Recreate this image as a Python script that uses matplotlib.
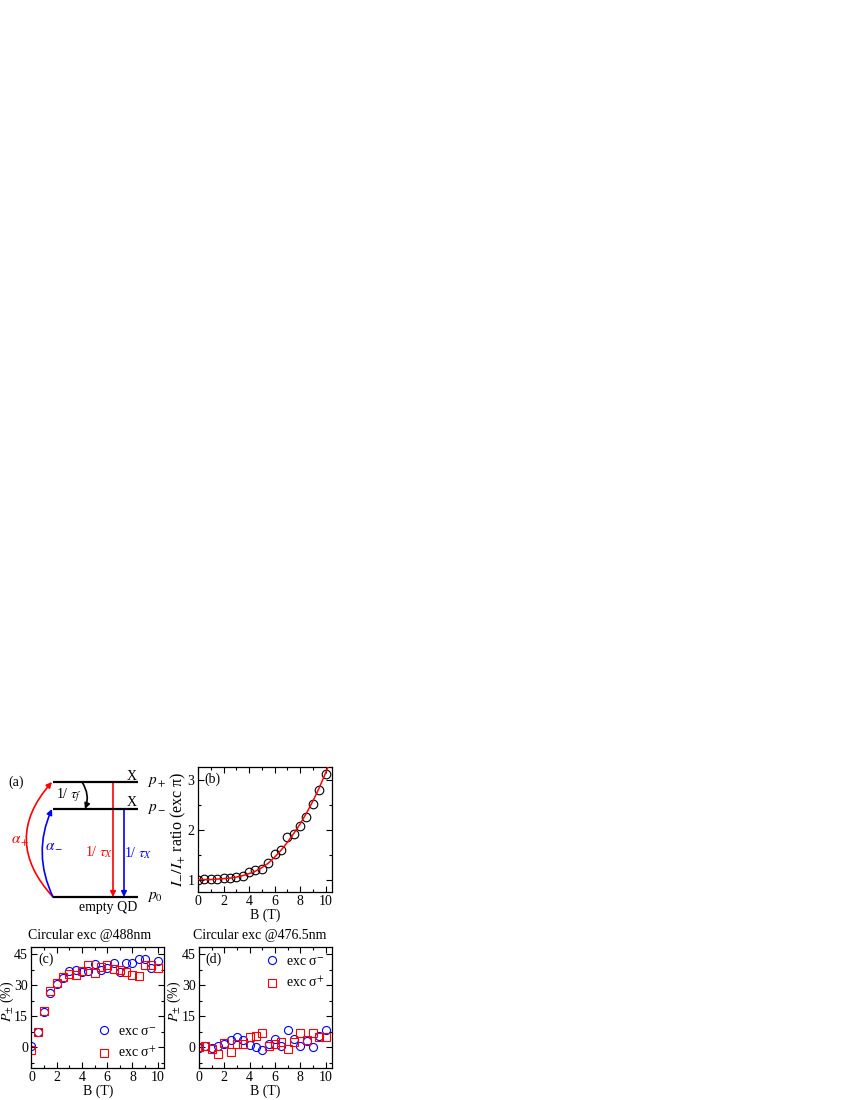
import matplotlib

matplotlib.use("Agg")
import matplotlib.pyplot as plt
from matplotlib.patches import FancyArrowPatch
from matplotlib.ticker import MultipleLocator

plt.rcParams["font.family"] = ["Liberation Serif", "DejaVu Serif"]
plt.rcParams["mathtext.fontset"] = "stix"
plt.rcParams["font.size"] = 10

# panel (b): intensity ratio vs field
b_field = [0, 0.5, 1, 1.5, 2, 2.5, 3, 3.5, 4, 4.5, 5, 5.5, 6, 6.5, 7, 7.5, 8, 8.5, 9, 9.5, 10]
ratio = [1.00, 1.01, 1.01, 1.02, 1.03, 1.04, 1.06, 1.08, 1.15, 1.20, 1.22, 1.33,
         1.52, 1.59, 1.86, 1.92, 2.08, 2.26, 2.52, 2.80, 3.13]
fit_field = [0, 0.5, 1, 1.5, 2, 2.5, 3, 3.5, 4, 4.5, 5, 5.5, 6, 6.5, 7, 7.5, 8,
             8.5, 9, 9.5, 10, 10.5]
fit_ratio = [1.00, 1.00, 1.00, 1.01, 1.02, 1.03, 1.05, 1.08, 1.12, 1.17, 1.24, 1.33,
             1.45, 1.59, 1.75, 1.93, 2.12, 2.34, 2.58, 2.85, 3.15, 3.48]

# panel (c): 488 nm excitation
pol_c_minus = [0.8, 7.5, 17.3, 26.4, 30.6, 33.6, 36.8, 37.3, 36.3, 36.8, 40.2, 37.6,
               38.3, 41.0, 36.3, 40.8, 40.8, 42.6, 42.9, 38.4, 41.8]
pol_c_plus = [-1.3, 7.2, 17.7, 27.3, 30.9, 33.8, 35.4, 35.0, 37.0, 40.0, 35.9, 38.6,
              39.8, 38.1, 37.6, 36.2, 35.2, 34.6, 40.0, 40.0, 38.4]

# panel (d): 476.5 nm excitation
pol_d_minus = [-0.5, 0.8, -0.2, 0.6, 1.5, 3.6, 4.9, 3.6, 1.1, 0.3, -1.3, 1.5,
               4.2, 0.6, 8.6, 3.9, 0.6, 3.2, 0.3, 5.5, 8.4]
pol_d_plus = [0.3, 0.6, -0.6, -3.2, 2.3, -2.3, 1.5, 1.8, 4.9, 5.7, 7.1, 0.6,
              1.5, 2.8, -1.0, 2.4, 6.7, 3.6, 7.0, 5.2, 4.9]

legend_labels = [r"exc σ$^{-}$", r"exc σ$^{+}$"]

W, H = 850, 1100
fig = plt.figure(figsize=(W / 100, H / 100), dpi=100)


def box(left, top, right, bottom):
    return [left / W, 1 - bottom / H, (right - left) / W, (bottom - top) / H]


def style(ax):
    ax.tick_params(which="both", direction="in", top=True, right=True,
                   labelsize=10, width=0.8, pad=2.5)
    ax.tick_params(which="major", length=4.5)
    ax.tick_params(which="minor", length=2.5)
    ax.xaxis.set_major_locator(MultipleLocator(2))
    ax.xaxis.set_minor_locator(MultipleLocator(1))
    ax.set_xlim(0, 10.5)
    ax.set_xlabel("B (T)", labelpad=0)
    for s in ax.spines.values():
        s.set_linewidth(0.9)


# ---- (a) level scheme, drawn in pixel units ----
ax_a = fig.add_axes(box(0, 730, 180, 920))
ax_a.set_xlim(0, 180)
ax_a.set_ylim(920, 730)
ax_a.axis("off")

levels = {"p_+": 782, "p_-": 809, "p_0": 897}
x0, x1 = 53, 138
for y in levels.values():
    ax_a.plot([x0, x1], [y, y], color="black", lw=1.6, solid_capstyle="butt")
ax_a.text(147, 782, r"$p_+$", ha="left", va="center", fontsize=11)
ax_a.text(147, 809, r"$p_-$", ha="left", va="center", fontsize=11)
ax_a.text(147, 897, r"$p_0$", ha="left", va="center", fontsize=11)
ax_a.text(132, 776, "X", ha="center", va="center", fontsize=10)
ax_a.text(132, 803, "X", ha="center", va="center", fontsize=10)
ax_a.text(108, 907, "empty QD", ha="center", va="center", fontsize=10)
ax_a.text(16, 782, "(a)", ha="center", va="center", fontsize=10)


def arrow(p, q, color, rad=0.0):
    ax_a.add_patch(FancyArrowPatch(p, q, arrowstyle="-|>", mutation_scale=8,
                                   color=color, lw=1.2, shrinkA=0, shrinkB=0,
                                   connectionstyle=f"arc3,rad={rad}"))


arrow((53, 897), (52, 782), "red", rad=-0.45)
arrow((53, 897), (52, 809), "blue", rad=-0.23)
arrow((82, 782), (85, 809), "black", rad=-0.25)
arrow((113, 782), (113, 897), "red")
arrow((124, 809), (124, 897), "blue")

ax_a.text(20, 842, r"$\alpha_+$", color="red", ha="center", va="center", fontsize=11)
ax_a.text(54, 845, r"$\alpha_-$", color="blue", ha="center", va="center", fontsize=11)
ax_a.text(69, 795, r"1/ $\tau_f$", color="black", ha="center", va="center", fontsize=10)
ax_a.text(99, 852, r"1/ $\tau_X$", color="red", ha="center", va="center", fontsize=10)
ax_a.text(138, 853, r"1/ $\tau_X$", color="blue", ha="center", va="center", fontsize=10)

# ---- (b) ----
ax_b = fig.add_axes(box(198, 767, 332, 892))
ax_b.plot(fit_field, fit_ratio, color="red", lw=1.1, zorder=3)
ax_b.plot(b_field, ratio, "o", mfc="none", mec="black", ms=6.2, mew=0.8, zorder=2)
style(ax_b)
ax_b.set_ylim(0.75, 3.27)
ax_b.yaxis.set_major_locator(MultipleLocator(1))
ax_b.yaxis.set_minor_locator(MultipleLocator(0.5))
ax_b.set_ylabel(r"$I_{-}/I_{+}$ ratio (exc π)", fontsize=11.5)
ax_b.yaxis.set_label_coords(-0.075, 0.5)
ax_b.text(0.05, 0.9, "(b)", transform=ax_b.transAxes, ha="left", va="center")

# ---- (c) and (d) ----
for pos, title, title_x, tag, minus, plus, loc in [
    ((31.5, 947, 164, 1068), "Circular exc @488nm", 0.435, "(c)",
     pol_c_minus, pol_c_plus, "lower right"),
    ((199, 947, 332, 1068), "Circular exc @476.5nm", 0.455, "(d)",
     pol_d_minus, pol_d_plus, "upper right"),
]:
    ax = fig.add_axes(box(*pos))
    ax.plot(b_field, minus, "o", mfc="none", mec="blue", ms=5.8, mew=0.8,
            label=legend_labels[0])
    ax.plot(b_field, plus, "s", mfc="none", mec="red", ms=5.2, mew=0.8,
            label=legend_labels[1])
    style(ax)
    ax.set_ylim(-10, 48.5)
    ax.yaxis.set_major_locator(MultipleLocator(15))
    ax.yaxis.set_minor_locator(MultipleLocator(7.5))
    ax.set_ylabel(r"$P_{\pm}$ (%)", fontsize=10)
    ax.yaxis.set_label_coords(-0.118, 0.55)
    ax.set_title(title, fontsize=10, pad=6, x=title_x)
    ax.text(0.05, 0.9, tag, transform=ax.transAxes, ha="left", va="center")
    ax.legend(loc=loc, frameon=False, fontsize=10, handletextpad=0.4,
              labelspacing=0.6, borderaxespad=0.15, handlelength=1.2)

fig.savefig("out.png", dpi=100)
